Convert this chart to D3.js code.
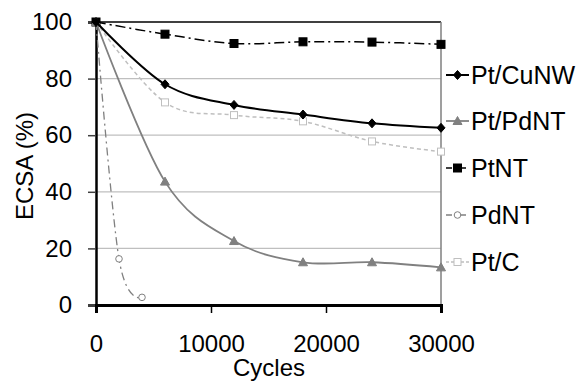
<!DOCTYPE html>
<html>
<head>
<meta charset="utf-8">
<script src="https://cdn.jsdelivr.net/npm/d3@7"></script>
<style>
  body { margin: 0; background: #fff; }
  text { font-family: "Liberation Sans", Arial, sans-serif; }
</style>
</head>
<body>
<div id="chart"></div>
<script>
// data
const cycles = [0, 6000, 12000, 18000, 24000, 30000];
const ptCuNW = [100, 78, 70.7, 67.3, 64.2, 62.6];
const ptPdNT = [100, 43.6, 22.6, 15.1, 15.1, 13.3];
const ptNT = [100, 95.7, 92.4, 93.0, 92.9, 92.1];
const pdNTCycles = [0, 2000, 4000];
const pdNT = [100, 16.3, 2.7];
const ptC = [100, 71.6, 67.1, 64.9, 57.8, 54.2];
const xTicks = [0, 10000, 20000, 30000];
const yTicks = [0, 20, 40, 60, 80, 100];

const width = 577, height = 381;
const plotLeft = 96, plotRight = 441, plotTop = 22, plotBottom = 305;
const fontFamily = '"Liberation Sans", Arial, sans-serif';

const svg = d3.select('#chart').append('svg')
    .attr('width', width)
    .attr('height', height);

const xScale = d3.scaleLinear().domain([0, 30000]).range([plotLeft, plotRight]);
const yScale = d3.scaleLinear().domain([0, 100]).range([plotBottom, plotTop]);

/* gridlines */
svg.append('g')
    .selectAll('line')
    .data(yTicks.filter(d => d > 0 && d < 100))
    .join('line')
    .attr('x1', plotLeft).attr('x2', plotRight)
    .attr('y1', d => yScale(d)).attr('y2', d => yScale(d))
    .attr('stroke', '#bfbfbf').attr('stroke-width', 1.2);

/* top border and right border */
svg.append('line')
    .attr('x1', plotLeft).attr('x2', plotRight)
    .attr('y1', yScale(100)).attr('y2', yScale(100))
    .attr('stroke', '#000').attr('stroke-width', 1.5);
svg.append('line')
    .attr('x1', plotRight).attr('x2', plotRight)
    .attr('y1', plotTop).attr('y2', plotBottom + 8)
    .attr('stroke', '#7f7f7f').attr('stroke-width', 1.5);

/* y axis */
const yAxis = d3.axisLeft(yScale).tickValues(yTicks).tickSize(8).tickPadding(16);
const yg = svg.append('g')
    .attr('transform', `translate(${plotLeft},0)`)
    .call(yAxis);
yg.select('.domain').attr('stroke', '#000').attr('stroke-width', 2.5);
yg.selectAll('.tick line').attr('stroke', '#404040').attr('stroke-width', 1.5);
yg.selectAll('text').attr('font-size', 24).attr('fill', '#000')
    .attr('font-family', fontFamily);

/* x axis */
const xAxis = d3.axisBottom(xScale).tickValues(xTicks).tickFormat(d3.format('d'))
    .tickSize(8).tickPadding(22);
const xg = svg.append('g')
    .attr('transform', `translate(0,${plotBottom})`)
    .call(xAxis);
xg.select('.domain').attr('stroke', '#000').attr('stroke-width', 3);
xg.selectAll('.tick line').attr('stroke', '#000').attr('stroke-width', 1.5);
xg.selectAll('text').attr('font-size', 24).attr('fill', '#000')
    .attr('font-family', fontFamily);

/* axis titles */
svg.append('text')
    .text('Cycles')
    .attr('x', 269).attr('y', 376)
    .attr('text-anchor', 'middle')
    .attr('font-size', 24);
svg.append('text')
    .text('ECSA (%)')
    .attr('transform', 'translate(33,166) rotate(-90)')
    .attr('text-anchor', 'middle')
    .attr('font-size', 24);

const line = d3.line()
    .x(d => xScale(d[0]))
    .y(d => yScale(d[1]))
    .curve(d3.curveCardinal.tension(0));

const series = [
    { name: 'Pt/CuNW', xs: cycles, ys: ptCuNW, color: '#000', dash: null, width: 2, marker: 'diamond', fill: '#000' },
    { name: 'Pt/PdNT', xs: cycles, ys: ptPdNT, color: '#808080', dash: null, width: 1.8, marker: 'triangle', fill: '#808080' },
    { name: 'PtNT', xs: cycles, ys: ptNT, color: '#000', dash: '10,4,2,4', width: 1.5, marker: 'square', fill: '#000' },
    { name: 'PdNT', xs: pdNTCycles, ys: pdNT, color: '#808080', dash: '8,4,2,4', width: 1.3, marker: 'circle', fill: '#fff' },
    { name: 'Pt/C', xs: cycles, ys: ptC, color: '#bfbfbf', dash: '4,3', width: 1.5, marker: 'square', fill: '#fff' }
];

function drawMarker(g, s, x, y) {
    if (s.marker === 'diamond') {
        g.append('path').attr('d', `M${x},${y - 4.5}L${x + 4},${y}L${x},${y + 4.5}L${x - 4},${y}Z`)
            .attr('fill', s.fill).attr('stroke', s.color).attr('stroke-width', 1);
    } else if (s.marker === 'triangle') {
        g.append('path').attr('d', `M${x},${y - 4.5}L${x + 4.5},${y + 3.5}L${x - 4.5},${y + 3.5}Z`)
            .attr('fill', s.fill).attr('stroke', s.color).attr('stroke-width', 1);
    } else if (s.marker === 'square') {
        const r = s.fill === '#fff' ? 3.5 : 4;
        g.append('rect').attr('x', x - r).attr('y', y - r).attr('width', 2 * r).attr('height', 2 * r)
            .attr('fill', s.fill).attr('stroke', s.color).attr('stroke-width', 1);
    } else if (s.marker === 'circle') {
        g.append('circle').attr('cx', x).attr('cy', y).attr('r', 3.3)
            .attr('fill', s.fill).attr('stroke', s.color).attr('stroke-width', 1);
    }
}

// draw in reverse order so Pt/CuNW ends up on top
series.slice().reverse().forEach(s => {
    const pts = s.xs.map((x, i) => [x, s.ys[i]]);
    const g = svg.append('g');
    g.append('path')
        .datum(pts)
        .attr('fill', 'none')
        .attr('stroke', s.color)
        .attr('stroke-width', s.width)
        .attr('stroke-dasharray', s.dash)
        .attr('d', line);
    pts.forEach(p => drawMarker(g, s, xScale(p[0]), yScale(p[1])));
});

/* legend */
const legendY = [75, 121, 168, 215, 262];
series.forEach((s, i) => {
    const g = svg.append('g');
    const y = legendY[i];
    g.append('line')
        .attr('x1', 446).attr('x2', 469)
        .attr('y1', y).attr('y2', y)
        .attr('stroke', s.color)
        .attr('stroke-width', s.width)
        .attr('stroke-dasharray', s.dash ? (s.dash === '4,3' ? '3,2' : '6,3,2,3') : null);
    drawMarker(g, s, 457.5, y);
    g.append('text')
        .text(s.name)
        .attr('x', 471).attr('y', y + 9)
        .attr('font-size', 25);
});
</script>
</body>
</html>
